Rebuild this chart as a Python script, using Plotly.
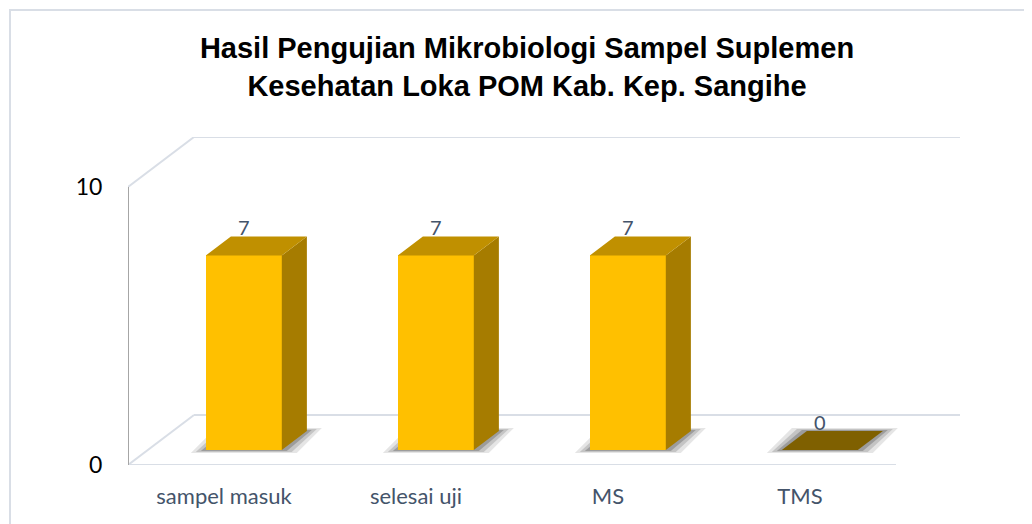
import plotly.graph_objects as go

# ---------------- data ----------------
categories = ["sampel masuk", "selesai uji", "MS", "TMS"]
values = [7, 7, 7, 0]
y_tick_vals = [0, 10]
title_lines = ["Hasil Pengujian Mikrobiologi Sampel Suplemen",
               "Kesehatan Loka POM Kab. Kep. Sangihe"]

# ---------------- pseudo-3D geometry ----------------
PX_X = 192.0            # pixels per category
PX_Y = 27.8             # pixels per value unit
DEPTH_X = 66 / PX_X     # full depth offset (x, data units)
DEPTH_Y = 50 / PX_Y     # full depth offset (y, data units)
BAR_FRONT = 0.30        # depth fraction of bar front face
BAR_BACK = 0.68         # depth fraction of bar back face
BAR_W = 76 / PX_X
X_LO = -0.5
X_HI = (960 - 224) / PX_X
Y_HI = (465 - 137) / PX_Y
Y_MAX_TICK = max(y_tick_vals)
N = len(categories)

fx = BAR_FRONT * DEPTH_X
fy = BAR_FRONT * DEPTH_Y
ddx = (BAR_BACK - BAR_FRONT) * DEPTH_X
ddy = (BAR_BACK - BAR_FRONT) * DEPTH_Y

FRONT_C = "#FFC000"
TOP_C = "#C09000"
SIDE_C = "#A67C00"
ZERO_C = "#7F6000"
GRID_C = "#D9DEE6"
AXIS_C = "#A6A6A6"
TEXT_C = "#44546A"

OFF = 8  # page body margin
L, R, T, B = 128 - OFF, 72 + OFF, 137 - OFF, 59 + OFF
pw, ph = 1032 - L - R, 524 - T - B

fig = go.Figure()

def poly_path(pts):
    return "M " + " L ".join(f"{x},{y}" for x, y in pts) + " Z"

# walls / gridlines (drawn below the traces)
segs = [
    ((X_LO, Y_MAX_TICK), (X_LO + DEPTH_X, Y_MAX_TICK + DEPTH_Y)),
    ((X_LO + DEPTH_X, Y_MAX_TICK + DEPTH_Y), (X_HI, Y_MAX_TICK + DEPTH_Y)),
    ((X_LO, 0), (X_LO + DEPTH_X, DEPTH_Y)),
    ((X_LO + DEPTH_X, DEPTH_Y), (X_HI, DEPTH_Y)),
    ((X_LO, 0), (N - 0.5, 0)),
]
for (a, b) in segs:
    fig.add_shape(type="line", xref="x", yref="y", x0=a[0], y0=a[1], x1=b[0], y1=b[1],
                  line=dict(color=GRID_C, width=2), layer="below")
fig.add_shape(type="line", xref="x", yref="y", x0=X_LO, y0=0, x1=X_LO, y1=Y_MAX_TICK,
              line=dict(color=AXIS_C, width=2), layer="below")

# shadows
for ex_px, ey_px, op in [(15, 3, 0.10), (10, 2, 0.14), (5, 1, 0.20)]:
    ex = ex_px / PX_X
    ey = ey_px / PX_Y
    for i, v in enumerate(values):
        x0 = i - BAR_W / 2 + fx
        x1 = x0 + BAR_W
        pts = [(x0 - ex, fy - ey), (x1 + ex, fy - ey),
               (x1 + ddx + ex, fy + ddy + ey), (x0 + ddx - ex, fy + ddy + ey)]
        fig.add_shape(type="path", xref="x", yref="y", path=poly_path(pts),
                      fillcolor=f"rgba(0,0,0,{op})", line=dict(width=0), layer="below")

# front faces
fig.add_trace(go.Bar(x=list(range(N)), y=values, base=fy, width=BAR_W,
                     offset=-BAR_W / 2 + fx, marker=dict(color=FRONT_C, line=dict(width=0)),
                     hoverinfo="skip", showlegend=False))

# side and top faces
sx, sy, tx, ty, zx, zy = [], [], [], [], [], []
for i, v in enumerate(values):
    x0 = i - BAR_W / 2 + fx
    x1 = x0 + BAR_W
    top = fy + v
    poly_x = [x0, x1, x1 + ddx, x0 + ddx, x0, None]
    poly_y = [top, top, top + ddy, top + ddy, top, None]
    if v > 0:
        sx += [x1, x1 + ddx, x1 + ddx, x1, x1, None]
        sy += [fy, fy + ddy, top + ddy, top, fy, None]
        tx += poly_x
        ty += poly_y
    else:
        zx += poly_x
        zy += poly_y
fig.add_trace(go.Scatter(x=sx, y=sy, mode="lines", fill="toself", fillcolor=SIDE_C,
                         line=dict(width=0), hoverinfo="skip", showlegend=False))
fig.add_trace(go.Scatter(x=tx, y=ty, mode="lines", fill="toself", fillcolor=TOP_C,
                         line=dict(width=0), hoverinfo="skip", showlegend=False))
fig.add_trace(go.Scatter(x=zx, y=zy, mode="lines", fill="toself", fillcolor=ZERO_C,
                         line=dict(width=0), hoverinfo="skip", showlegend=False))

# value labels
fig.add_trace(go.Scatter(x=[i + fx for i in range(N)],
                         y=[v + fy + 25 / PX_Y for v in values],
                         mode="text", text=[str(v) for v in values],
                         textposition="middle center",
                         textfont=dict(family="Lato", size=20, color=TEXT_C),
                         hoverinfo="skip", showlegend=False))

# chart border
def px2paper_x(px):
    return (px - OFF - L) / pw
def px2paper_y(py):
    return (524 - B - (py - OFF)) / ph

fig.add_shape(type="rect", xref="paper", yref="paper",
              x0=px2paper_x(10), x1=px2paper_x(1060),
              y0=px2paper_y(560), y1=px2paper_y(10),
              line=dict(color=GRID_C, width=2), fillcolor="rgba(0,0,0,0)", layer="below")

fig.update_layout(
    width=1032, height=524,
    margin=dict(l=L, r=R, t=T, b=B),
    paper_bgcolor="white", plot_bgcolor="white",
    title=dict(text="<b>" + "<br>".join(title_lines) + "</b>",
               x=(527 - OFF) / 1032, xanchor="center", y=1 - 50 / 524, yanchor="middle",
               yref="container",
               font=dict(family="Liberation Sans, Arial", size=29, color="black")),
    xaxis=dict(range=[X_LO, X_HI], tickvals=list(range(N)), ticktext=categories,
               showgrid=False, zeroline=False, showline=False,
               ticks="outside", ticklen=12, tickcolor="rgba(0,0,0,0)",
               tickfont=dict(family="Lato", size=22, color=TEXT_C)),
    yaxis=dict(range=[0, Y_HI], tickvals=y_tick_vals,
               showgrid=False, zeroline=False, showline=False,
               ticks="outside", ticklen=20, tickcolor="rgba(0,0,0,0)",
               tickfont=dict(family="Lato", size=23, color="black")),
    bargap=0,
)

fig.write_html("out.html")
